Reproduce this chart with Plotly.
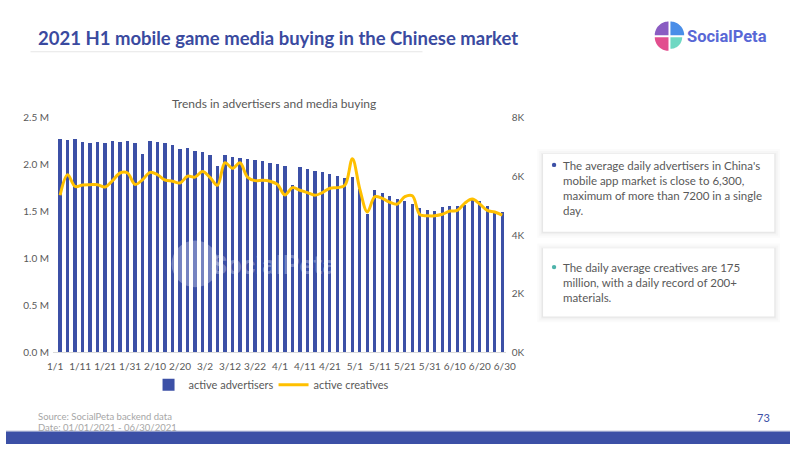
import numpy as np
import pandas as pd
import plotly.graph_objects as go

# ---------------- data ----------------
bar_dates = pd.date_range("2021-01-03", periods=60, freq="3D")
advertisers_m = [2.275, 2.261, 2.275, 2.247, 2.237, 2.244, 2.237, 2.251, 2.247, 2.251,
                 2.233, 2.112, 2.254, 2.244, 2.230, 2.209, 2.174, 2.178, 2.147, 2.140,
                 2.109, 1.991, 2.102, 2.088, 2.071, 2.067, 2.057, 2.046, 2.022, 2.013,
                 1.984, 1.780, 1.977, 1.956, 1.936, 1.922, 1.904, 1.884, 1.859, 1.870,
                 1.738, 1.479, 1.728, 1.697, 1.666, 1.641, 1.617, 1.582, 1.541, 1.520,
                 1.510, 1.548, 1.562, 1.565, 1.576, 1.627, 1.617, 1.562, 1.492, 1.496]
creatives = [5360, 6060, 5660, 5710, 5720, 5720, 5640, 5860, 6120, 6120,
             5730, 5890, 6140, 6060, 5880, 5840, 5780, 6010, 5980, 6170,
             5970, 5700, 6470, 6280, 6470, 5980, 5860, 5870, 5840, 5730,
             5370, 5620, 5530, 5450, 5360, 5450, 5600, 5620, 5700, 6610,
             5560, 4790, 5310, 5250, 5120, 5060, 5310, 5340, 4700, 4660,
             4660, 4710, 4820, 4840, 5090, 5230, 5060, 4840, 4790, 4680]
tick_dates = pd.date_range("2021-01-01", periods=19, freq="10D")
tick_labels = [f"{d.month}/{d.day}" for d in tick_dates]
left_ticks = [0, 0.5, 1.0, 1.5, 2.0, 2.5]
left_labels = ["0.0 M", "0.5 M", "1.0 M", "1.5 M", "2.0 M", "2.5 M"]
right_ticks = [0, 2000, 4000, 6000, 8000]
right_labels = ["0K", "2K", "4K", "6K", "8K"]

BLUE = "#3C50A6"
GOLD = "#FFC000"
GRAY = "#595959"
FONT = "Lato"

W, H = 800, 450
def px(x): return x / W
def py(y): return 1 - y / H

fig = go.Figure()
fig.add_bar(x=bar_dates, y=advertisers_m, name="active advertisers",
            marker=dict(color=BLUE, line=dict(width=0)), width=1.3 * 86400000)
fig.add_scatter(x=bar_dates, y=creatives, name="active creatives", yaxis="y2",
                mode="lines", line=dict(color=GOLD, width=3, shape="spline", smoothing=1))

shapes = []
annotations = []

# title + underline
annotations.append(dict(text="<b>2021 H1 mobile game media buying in the Chinese market</b>",
                        x=px(31), y=py(33), xref="paper", yref="paper", xanchor="left", yanchor="middle",
                        showarrow=False, font=dict(family=FONT, size=18.5, color="#3A4A9F")))
shapes.append(dict(type="line", xref="paper", yref="paper", x0=px(25), x1=px(425), y0=py(47), y1=py(47),
                   line=dict(color="#E6E6E6", width=1)))

# logo icon
def sector(cx, cy, r, a0, a1, color, n=24):
    ang = np.linspace(np.radians(a0), np.radians(a1), n)
    pts = [(cx, cy)] + [(cx + r * np.cos(a), cy - r * np.sin(a)) for a in ang]
    d = "M " + " L ".join(f"{px(x):.5f},{py(y):.5f}" for x, y in pts) + " Z"
    return dict(type="path", xref="paper", yref="paper", path=d, fillcolor=color, line=dict(width=0))

cx, cy, r = 677, 31, 14
shapes += [sector(cx - 1, cy - 1, r, 90, 180, "#8A5CC2"),
           sector(cx + 1, cy - 1, r, 0, 90, "#4A8EE8"),
           sector(cx - 1, cy + 1, r, 180, 270, "#E24E8E"),
           sector(cx + 1, cy + 1, r - 2, 270, 360, "#6FD8C3")]
annotations.append(dict(text="<b>SocialPeta</b>", x=px(693), y=py(31), xref="paper", yref="paper",
                        xanchor="left", yanchor="middle", showarrow=False,
                        font=dict(family="Roboto", size=16.5, color="#5868D6")))

# chart title
annotations.append(dict(text="Trends in advertisers and media buying", x=px(273), y=py(100),
                        xref="paper", yref="paper", xanchor="center", yanchor="middle", showarrow=False,
                        font=dict(family=FONT, size=12, color=GRAY)))

# watermark
shapes.append(dict(type="circle", xref="paper", yref="paper", x0=px(169), x1=px(217), y0=py(241), y1=py(289),
                   fillcolor="rgba(255,255,255,0.3)", line=dict(width=0), layer="above"))
annotations.append(dict(text="<b>SocialPeta</b>", x=px(273), y=py(266), xref="paper", yref="paper",
                        xanchor="center", yanchor="middle", showarrow=False,
                        font=dict(family="Roboto", size=26, color="rgba(255,255,255,0.3)")))

# cards with soft shadow
def card(y0, y1):
    out = []
    for k, a in [(6, 0.015), (4, 0.02), (2, 0.03), (1, 0.03)]:
        out.append(dict(type="rect", xref="paper", yref="paper", x0=px(548 - k), x1=px(784 + k),
                        y0=py(y1 + k), y1=py(y0 - k + 1), fillcolor=f"rgba(0,0,0,{a})", line=dict(width=0),
                        layer="below"))
    out.append(dict(type="rect", xref="paper", yref="paper", x0=px(548), x1=px(784), y0=py(y1), y1=py(y0),
                    fillcolor="white", line=dict(width=0), layer="below"))
    return out

shapes += card(152, 232) + card(249, 319)
shapes.append(dict(type="circle", xref="paper", yref="paper", x0=px(557), x1=px(561.5), y0=py(165.5), y1=py(161),
                   fillcolor=BLUE, line=dict(width=0)))
shapes.append(dict(type="circle", xref="paper", yref="paper", x0=px(557), x1=px(561.5), y0=py(270.5), y1=py(266),
                   fillcolor="#4DB3AA", line=dict(width=0)))
annotations.append(dict(text="The average daily advertisers in China's<br>mobile app market is close to 6,300,<br>"
                             "maximum of more than 7200 in a single<br>day.",
                        x=px(566), y=py(155), xref="paper", yref="paper", xanchor="left", yanchor="top",
                        align="left", showarrow=False, font=dict(family=FONT, size=11.5, color=GRAY)))
annotations.append(dict(text="The daily average creatives are 175<br>million, with a daily record of 200+<br>materials.",
                        x=px(566), y=py(260), xref="paper", yref="paper", xanchor="left", yanchor="top",
                        align="left", showarrow=False, font=dict(family=FONT, size=11.5, color=GRAY)))

# footer
annotations.append(dict(text="Source: SocialPeta backend data", x=px(31), y=py(422), xref="paper", yref="paper",
                        xanchor="left", yanchor="middle", showarrow=False,
                        font=dict(family=FONT, size=9.5, color="#A6A6A6")))
annotations.append(dict(text="Date: 01/01/2021 - 06/30/2021", x=px(31), y=py(433), xref="paper", yref="paper",
                        xanchor="left", yanchor="middle", showarrow=False,
                        font=dict(family=FONT, size=9.5, color="#A6A6A6")))
annotations.append(dict(text="73", x=px(782), y=py(423), xref="paper", yref="paper",
                        xanchor="right", yanchor="middle", showarrow=False,
                        font=dict(family=FONT, size=11, color=BLUE)))
shapes.append(dict(type="rect", xref="paper", yref="paper", x0=0, x1=1, y0=0, y1=py(437),
                   fillcolor=BLUE, line=dict(width=0)))
shapes.append(dict(type="line", xref="paper", yref="paper", x0=0, x1=1, y0=py(436.5), y1=py(436.5),
                   line=dict(color="#D0D4E4", width=1)))

fig.update_layout(
    width=W, height=H, margin=dict(l=0, r=0, t=0, b=0),
    paper_bgcolor="white", plot_bgcolor="rgba(0,0,0,0)",
    font=dict(family=FONT, color=GRAY, size=10),
    bargap=0, showlegend=True,
    legend=dict(orientation="h", x=px(273), xanchor="center", y=py(389), yanchor="middle",
                font=dict(family=FONT, size=11, color=GRAY), bgcolor="rgba(0,0,0,0)",
                itemwidth=30, tracegroupgap=0, entrywidth=80, entrywidthmode="pixels"),
    xaxis=dict(domain=[px(48), px(510)], type="date",
               range=["2020-12-31 04:00", "2021-06-30 10:00"],
               tickvals=tick_dates, ticktext=tick_labels, tickangle=0,
               showgrid=False, zeroline=False, showline=True, linecolor="#D9D9D9", linewidth=1,
               ticks="", ticklabelstandoff=5, tickfont=dict(family=FONT, size=10, color=GRAY)),
    yaxis=dict(domain=[py(355.7), py(115)], range=[0, 2.5], tickvals=left_ticks, ticktext=left_labels,
               showgrid=False, zeroline=False, showline=False, ticks="", ticklabelstandoff=3,
               tickfont=dict(family=FONT, size=10, color=GRAY)),
    yaxis2=dict(overlaying="y", side="right", anchor="x", range=[0, 8000], tickvals=right_ticks,
                ticktext=right_labels, showgrid=False, zeroline=False, showline=False, ticks="",
                ticklabelstandoff=5, tickfont=dict(family=FONT, size=10, color=GRAY)),
    shapes=shapes, annotations=annotations,
)

fig.write_html("out.html")
